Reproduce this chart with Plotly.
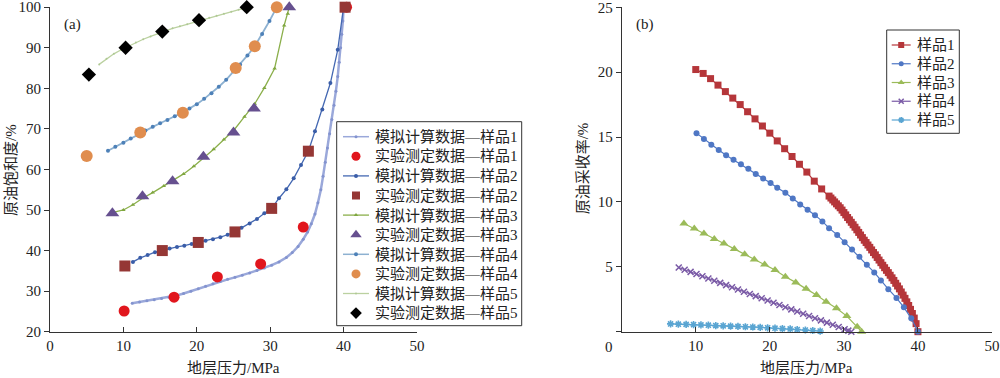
import plotly.graph_objects as go

# ---------------- (a) 原油饱和度 ----------------
sim1_x = [11.2, 12.2, 13.2, 14.2, 15.2, 16.2, 17.2, 18.2, 19.2, 20.2, 21.2, 22.2, 23.2, 24.2, 25.2, 26.2, 27.2, 28.2,
          29.2, 30.2, 31.2, 32.2, 33.0, 33.8, 34.5, 35.1, 35.6, 36.1, 36.5, 36.9, 37.2, 37.5, 37.8, 38.1, 38.4, 38.7,
          38.95, 39.2, 39.4, 39.6, 39.75, 39.9, 40.0]
sim1_y = [27.0, 27.3, 27.6, 27.9, 28.2, 28.5, 28.9, 29.4, 30.0, 30.6, 31.2, 31.8, 32.4, 32.9, 33.4, 33.9, 34.5, 35.1,
          35.7, 36.4, 37.2, 38.3, 39.5, 41.0, 42.8, 44.6, 46.6, 49.0, 51.8, 55.0, 58.3, 61.8, 65.3, 68.8, 72.3, 75.8,
          79.3, 82.9, 86.4, 90.0, 93.3, 96.6, 100.0]
exp1_x = [10.1, 16.9, 22.8, 28.7, 34.5, 40.4]
exp1_y = [25.1, 28.5, 33.5, 36.7, 45.8, 100.0]

sim2_x = [11.3, 12.3, 13.3, 14.3, 15.2, 16.3, 17.3, 18.3, 19.3, 20.2, 21.2, 22.2, 23.2, 24.2, 25.2, 26.1, 27.2, 28.2,
          29.2, 30.2, 31.2, 32.2, 33.2, 34.2, 35.2, 36.1, 37.1, 38.2, 39.2, 40.0]
sim2_y = [37.2, 38.2, 38.9, 39.6, 40.0, 40.5, 40.9, 41.2, 41.6, 42.0, 42.4, 42.8, 43.3, 43.9, 44.6, 45.6, 46.7, 47.8,
          49.2, 50.4, 52.9, 55.1, 57.8, 61.1, 64.5, 69.4, 74.8, 81.3, 89.5, 100.0]
exp2_x = [10.2, 15.3, 20.2, 25.2, 30.2, 35.2, 40.2]
exp2_y = [36.2, 40.0, 42.0, 44.6, 50.4, 64.5, 100.0]

sim3_x = [8.6, 10.0, 11.3, 12.6, 14.0, 15.5, 16.8, 18.2, 19.6, 21.0, 22.3, 23.7, 25.1, 26.5, 27.9, 29.2, 30.6, 31.9,
          32.4, 32.6]
sim3_y = [49.4, 50.0, 51.3, 52.9, 54.3, 55.9, 57.2, 58.9, 60.8, 62.9, 65.0, 67.4, 69.8, 73.0, 76.2, 80.1, 84.9, 95.5,
          98.4, 100.0]
exp3_x = [8.5, 12.6, 16.7, 20.9, 25.0, 27.8, 32.6]
exp3_y = [49.2, 53.4, 57.1, 63.1, 69.1, 75.0, 100.0]

sim4_x = [7.9, 8.9, 10.0, 11.0, 12.0, 13.0, 14.0, 15.0, 16.0, 17.0, 18.0, 19.0, 20.0, 21.0, 22.0, 23.0, 24.0, 25.0,
          25.9, 26.9, 27.9, 28.9, 29.9, 30.9]
sim4_y = [64.6, 65.6, 66.6, 67.6, 68.6, 69.6, 70.5, 71.4, 72.2, 73.1, 74.0, 75.0, 76.1, 77.4, 78.8, 80.4, 82.1, 84.2,
          85.9, 88.1, 90.4, 93.4, 96.6, 100.0]
exp4_x = [5.0, 12.3, 18.1, 25.3, 27.9, 30.9]
exp4_y = [63.3, 69.1, 74.0, 85.0, 90.4, 100.0]

sim5_x = [6.7, 7.7, 8.7, 9.7, 10.7, 11.7, 12.7, 13.7, 14.7, 15.7, 16.7, 17.7, 18.7, 19.7, 20.7, 21.7, 22.7, 23.7, 24.7,
          25.7, 26.7]
sim5_y = [85.9, 87.3, 88.5, 89.5, 90.4, 91.3, 92.1, 92.8, 93.5, 94.2, 94.8, 95.3, 95.8, 96.3, 96.9, 97.4, 97.9, 98.4,
          98.9, 99.4, 99.9]
exp5_x = [5.3, 10.3, 15.3, 20.3, 26.8]
exp5_y = [83.4, 90.0, 94.0, 96.8, 100.0]

# ---------------- (b) 原油采收率 ----------------
r1_x = [10, 11, 12, 13, 14, 15, 16, 17, 18, 19, 20, 21, 22, 23, 24, 25, 26, 27,
        28.0, 28.25, 28.5, 28.75, 29.0, 29.25, 29.5, 29.75, 30.0, 30.25, 30.5, 30.75, 31.0, 31.25, 31.5, 31.75,
        32.0, 32.25, 32.5, 32.75, 33.0, 33.25, 33.5, 33.75, 34.0, 34.25, 34.5, 34.75, 35.0, 35.25, 35.5, 35.75,
        36.0, 36.25, 36.5, 36.75, 37.0, 37.25, 37.5, 37.75, 38.0, 38.25, 38.5, 38.75, 39.0, 39.25, 39.5, 39.75, 40.0]
r1_y = [20.2, 19.9, 19.5, 19.0, 18.5, 18.0, 17.5, 16.95, 16.4, 15.85, 15.3, 14.7, 14.1, 13.5, 12.9, 12.3, 11.6, 11.0,
        10.45, 10.3, 10.15, 10.0, 9.85, 9.7, 9.55, 9.37, 9.18, 9.0, 8.8, 8.62, 8.43, 8.24, 8.05, 7.85,
        7.65, 7.45, 7.25, 7.05, 6.87, 6.68, 6.5, 6.3, 6.1, 5.92, 5.72, 5.52, 5.32, 5.12, 4.93, 4.73,
        4.55, 4.35, 4.15, 3.95, 3.73, 3.52, 3.3, 3.06, 2.82, 2.57, 2.3, 2.02, 1.72, 1.4, 1.05, 0.62, 0.0]

r2_x = [10.1, 11.1, 12.1, 13.1, 14.1, 15.1, 16.1, 17.1, 18.1, 19.1, 20.1, 21.0, 22.1, 23.1, 24.1, 25.1, 26.1, 27.1,
        28.0, 29.1, 30.1, 31.1, 32.1, 33.1, 34.1, 35.0, 36.0, 37.1, 38.1, 39.1, 40.0]
r2_y = [15.3, 14.85, 14.4, 14.0, 13.6, 13.25, 12.9, 12.55, 12.15, 11.8, 11.45, 11.1, 10.7, 10.26, 9.8, 9.4, 8.98, 8.5,
        7.98, 7.46, 6.9, 6.34, 5.77, 5.15, 4.57, 3.95, 3.28, 2.6, 1.88, 1.03, 0.0]

r3_x = [8.4, 9.8, 11.1, 12.5, 13.8, 15.2, 16.6, 17.9, 19.3, 20.7, 22.1, 23.5, 24.9, 26.3, 27.6, 29.0, 30.4, 31.8, 32.4]
r3_y = [8.34, 7.95, 7.57, 7.15, 6.8, 6.38, 5.97, 5.56, 5.18, 4.75, 4.23, 3.8, 3.3, 2.82, 2.3, 1.8, 1.2, 0.38, 0.0]

r4_x = [7.7, 8.5, 9.3, 10.1, 10.9, 11.7, 12.5, 13.3, 14.1, 14.9, 15.7, 16.5, 17.3, 18.1, 18.9, 19.7, 20.5, 21.3,
        22.1, 22.9, 23.7, 24.5, 25.3, 26.1, 26.9, 27.7, 28.5, 29.3, 30.1, 30.6, 31.0]
r4_y = [4.95, 4.78, 4.61, 4.44, 4.27, 4.1, 3.93, 3.76, 3.59, 3.42, 3.25, 3.08, 2.91, 2.74, 2.57, 2.4, 2.23, 2.06,
        1.89, 1.72, 1.55, 1.38, 1.21, 1.04, 0.87, 0.7, 0.53, 0.36, 0.19, 0.08, 0.0]

r5_x = [6.6, 7.65, 8.7, 9.7, 10.7, 11.7, 12.7, 13.7, 14.7, 15.7, 16.7, 17.7, 18.7, 19.7, 20.7, 21.7, 22.75, 23.7,
        24.8, 25.8, 26.8]
r5_y = [0.6, 0.58, 0.56, 0.54, 0.52, 0.5, 0.47, 0.45, 0.43, 0.41, 0.38, 0.36, 0.33, 0.3, 0.27, 0.24, 0.21, 0.17,
        0.13, 0.09, 0.05]

x_ticks = [0, 10, 20, 30, 40, 50]
xa_text = ["0", "10", "20", "30", "40", "50"]
xb_text = ["", "10", "20", "30", "40", "50"]
ya_ticks = [20, 30, 40, 50, 60, 70, 80, 90, 100]
yb_ticks = [0, 5, 10, 15, 20, 25]
yb_text = ["", "5", "10", "15", "20", "25"]

FONT = "Liberation Serif, Times New Roman, Noto Sans CJK SC, serif"
AX = "#333333"
TXT = "#222222"
W, H = 1000, 378

fig = go.Figure()

# series definitions: (name, x, y, kind, line color, marker color, line width, marker size, symbol, legend marker size)
series_a = [
    ("模拟计算数据—样品1", sim1_x, sim1_y, "sim", "#9AA8DA", "#8393CF", 2.5, 3, "circle", 3),
    ("实验测定数据—样品1", exp1_x, exp1_y, "exp", None, "#E1161D", 0, 11, "circle", 9),
    ("模拟计算数据—样品2", sim2_x, sim2_y, "sim", "#4468B2", "#3A5DA8", 1.3, 4, "circle", 4),
    ("实验测定数据—样品2", exp2_x, exp2_y, "exp", None, "#953735", 0, 11, "square", 8),
    ("模拟计算数据—样品3", sim3_x, sim3_y, "sim", "#8BAF4B", "#7FA63F", 1.3, 4, "triangle-up", 4),
    ("实验测定数据—样品3", exp3_x, exp3_y, "exp", None, "#66508F", 0, 12, "triangle-up", 10),
    ("模拟计算数据—样品4", sim4_x, sim4_y, "sim", "#8DB1D1", "#4E81B8", 1.8, 4, "circle", 4),
    ("实验测定数据—样品4", exp4_x, exp4_y, "exp", None, "#E08D4E", 0, 12, "circle", 9),
    ("模拟计算数据—样品5", sim5_x, sim5_y, "sim", "#BBD1A0", "#AFC894", 1.3, 2, "circle", 2),
    ("实验测定数据—样品5", exp5_x, exp5_y, "exp", None, "#000000", 0, 11, "diamond", 9),
]
series_b = [
    ("样品1", r1_x, r1_y, "#B5363A", 7, "square", 0, 6),
    ("样品2", r2_x, r2_y, "#4F77C4", 6, "circle", 0, 5),
    ("样品3", r3_x, r3_y, "#9BBB59", 8, "triangle-up", 0, 6),
    ("样品4", r4_x, r4_y, "#7A5AA6", 6, "x-thin-open", 1.5, 5),
    ("样品5", r5_x, r5_y, "#5AA5D2", 6, "asterisk-open", 1.6, 5),
]

for name, x, y, kind, lc, mc, lw, ms, sym, _ in series_a:
    if kind == "sim":
        fig.add_trace(go.Scatter(x=x, y=y, name=name, mode="lines+markers", xaxis="x", yaxis="y",
                                 line=dict(color=lc, width=lw), marker=dict(color=mc, size=ms, symbol=sym),
                                 cliponaxis=False, showlegend=False))
    else:
        fig.add_trace(go.Scatter(x=x, y=y, name=name, mode="markers", xaxis="x", yaxis="y",
                                 marker=dict(color=mc, size=ms, symbol=sym), cliponaxis=False, showlegend=False))

for name, x, y, c, ms, sym, mlw, _ in series_b:
    mk = dict(color=c, size=ms, symbol=sym)
    if mlw:
        mk["line"] = dict(color=c, width=mlw)
    fig.add_trace(go.Scatter(x=x, y=y, name=name, mode="lines+markers", xaxis="x2", yaxis="y2",
                             line=dict(color=c, width=1.2), marker=mk, cliponaxis=False, showlegend=False))

# ---------------- legends (drawn on a pixel overlay) ----------------
shapes, annots = [], []

def legend_box(x0, y0, x1, y1):
    shapes.append(dict(type="rect", xref="paper", yref="paper", x0=x0 / W, x1=x1 / W,
                       y0=1 - y1 / H, y1=1 - y0 / H, line=dict(color=AX, width=1), fillcolor="white",
                       layer="below"))

def legend_item(ypx, l0, l1, tx, text, lcol, lw, mcol, msize, sym, mlw=0):
    if lcol:
        fig.add_trace(go.Scatter(x=[l0, l1], y=[ypx, ypx], mode="lines", xaxis="x3", yaxis="y3",
                                 line=dict(color=lcol, width=lw), hoverinfo="skip", showlegend=False,
                                 cliponaxis=False))
    mk = dict(color=mcol, size=msize, symbol=sym)
    if mlw:
        mk["line"] = dict(color=mcol, width=mlw)
    fig.add_trace(go.Scatter(x=[(l0 + l1) / 2], y=[ypx], mode="markers", xaxis="x3", yaxis="y3",
                             marker=mk, hoverinfo="skip", showlegend=False, cliponaxis=False))
    annots.append(dict(text=text, x=tx / W, y=1 - ypx / H, xanchor="left", yanchor="middle"))

legend_box(336.7, 121.7, 521.7, 325.7)
for i, (name, x, y, kind, lc, mc, lw, ms, sym, lms) in enumerate(series_a):
    legend_item(136.7 + i * 19.6, 343, 369, 373, name, lc, min(lw, 1.5) if lc else 0, mc, lms, sym)

legend_box(886.7, 30, 959.3, 133.3)
for i, (name, x, y, c, ms, sym, mlw, lms) in enumerate(series_b):
    legend_item(45 + i * 18.75, 891.7, 910.7, 915, name, c, 1.2, c, lms, sym, mlw)

ydom = [0.1225, 0.9815]
tf = dict(family=FONT, size=15, color=TXT)
common_x = dict(range=[0, 50], tickvals=x_ticks, showline=True, linecolor=AX, linewidth=1, ticks="inside",
                ticklen=5, tickcolor=AX, showgrid=False, zeroline=False, tickfont=tf, automargin=False,
                ticklabeloverflow="allow")
common_y = dict(showline=True, linecolor=AX, linewidth=1, ticks="outside", ticklen=5, tickcolor=AX,
                showgrid=False, zeroline=False, tickfont=tf, automargin=False, ticklabeloverflow="allow")
fig.update_layout(
    width=W, height=H,
    margin=dict(l=0, r=0, t=0, b=0),
    paper_bgcolor="white", plot_bgcolor="rgba(0,0,0,0)",
    font=tf,
    xaxis=dict(domain=[0.05, 0.417], anchor="y", ticktext=xa_text, **common_x),
    yaxis=dict(domain=ydom, anchor="x", range=[20, 100.05], tickvals=ya_ticks, **common_y),
    xaxis2=dict(domain=[0.6217, 0.992], anchor="y2", ticktext=xb_text, **common_x),
    yaxis2=dict(domain=ydom, anchor="x2", range=[0, 25.02], tickvals=yb_ticks, ticktext=yb_text, **common_y),
    xaxis3=dict(domain=[0, 1], anchor="y3", range=[0, W], visible=False, fixedrange=True),
    yaxis3=dict(domain=[0, 1], anchor="x3", range=[H, 0], visible=False, fixedrange=True),
    showlegend=False,
    shapes=shapes,
)

annots += [
    dict(text="(a)", x=0.0727, y=1 - 24 / H),
    dict(text="(b)", x=0.645, y=1 - 24 / H),
    dict(text="原油饱和度/%", x=0.011, y=1 - 170 / H, textangle=-90),
    dict(text="原油采收率/%", x=0.5833, y=1 - 168 / H, textangle=-90),
    dict(text="地层压力/MPa", x=0.2335, y=1 - 368 / H),
    dict(text="地层压力/MPa", x=0.806, y=1 - 368 / H),
    dict(text="0", x=0.609, y=1 - 347 / H),
]
for a in annots:
    a.setdefault("xanchor", "center")
    a.setdefault("yanchor", "middle")
    fig.add_annotation(xref="paper", yref="paper", showarrow=False, font=tf, **a)

fig.write_html("out.html", config={"displayModeBar": False},
               post_script="document.body.style.margin='0';document.body.style.overflow='hidden';")
